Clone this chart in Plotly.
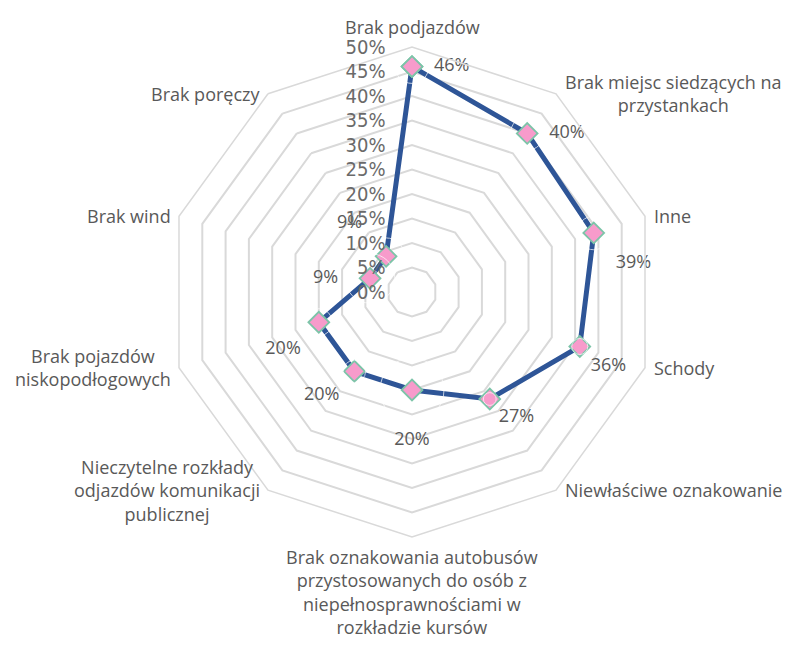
import math
import plotly.graph_objects as go

# Survey: barriers reported, share of respondents (%)
categories = [
    "Brak podjazdów",
    "Brak miejsc siedzących na<br>przystankach",
    "Inne",
    "Schody",
    "Niewłaściwe oznakowanie",
    "Brak oznakowania autobusów<br>przystosowanych do osób z<br>niepełnosprawnościami w<br>rozkładzie kursów",
    "Nieczytelne rozkłady<br>odjazdów komunikacji<br>publicznej",
    "Brak pojazdów<br>niskopodłogowych",
    "Brak wind",
    "Brak poręczy",
]
values = [46, 40, 39, 36, 27, 20, 20, 20, 9, 9]

radial_ticks = [0, 5, 10, 15, 20, 25, 30, 35, 40, 45, 50]
radial_labels = [f"{v}%" for v in radial_ticks]

# value label placement around each point (position + invisible spacer size)
label_pos = ["middle right", "middle right", "bottom right", "bottom right", "bottom right",
             "bottom center", "bottom left", "bottom left", "middle left", "top left"]
label_gap = [33.6, 33.6, 33.6, 16, 12.8, 64, 22.4, 27.2, 49.6, 36.8]

LINE = "#2E5597"
GRID = "#D9D9D9"
TXT = "#595959"
FONT = "Open Sans"

W, H = 788, 648
CX, CY, RAD = 412, 292, 245  # polar centre and radius in pixels

theta_closed = categories + categories[:1]
r_closed = values + values[:1]

fig = go.Figure()
fig.add_trace(go.Scatterpolar(
    r=r_closed, theta=theta_closed, mode="lines+markers",
    line=dict(color=LINE, width=5),
    marker=dict(symbol="diamond", size=16, color="#F79BCB",
                line=dict(color="#7CC4A8", width=1.8)),
    hoverinfo="skip", showlegend=False,
))
fig.add_trace(go.Scatterpolar(
    r=values, theta=categories, mode="markers+text",
    text=[f"{v}%" for v in values], textposition=label_pos,
    textfont=dict(family=FONT, size=18, color=TXT),
    marker=dict(size=label_gap, color="rgba(0,0,0,0)"),
    hoverinfo="skip", showlegend=False,
))

# category names just outside each vertex of the outer polygon
n = len(categories)
for i, name in enumerate(categories):
    ang = math.radians(90 - 360 * i / n)
    c, s = math.cos(ang), math.sin(ang)
    px = CX + RAD * c
    py = CY - RAD * s
    if c > 0.1:
        xa, px = "left", px + 7
    elif c < -0.1:
        xa, px = "right", px - 6
    else:
        xa = "center"
    if s > 0.95:
        ya, py = "bottom", py - 6
    elif s < -0.95:
        ya, py = "top", py + 6
    else:
        ya = "middle"
    fig.add_annotation(
        x=px / W, y=1 - py / H, xref="paper", yref="paper",
        text=name, showarrow=False, xanchor=xa, yanchor=ya, align="center",
        font=dict(family=FONT, size=18, color=TXT),
    )

fig.update_layout(
    width=W, height=H,
    margin=dict(l=0, r=0, t=0, b=0),
    paper_bgcolor="white", plot_bgcolor="white",
    polar=dict(
        domain=dict(x=[(CX - RAD) / W, (CX + RAD) / W],
                    y=[(H - CY - RAD) / H, (H - CY + RAD) / H]),
        gridshape="linear",
        bgcolor="white",
        angularaxis=dict(
            direction="clockwise", rotation=90,
            showgrid=False, showline=True, linecolor=GRID, linewidth=1.5,
            ticks="", showticklabels=False,
        ),
        radialaxis=dict(
            range=[0, 50], angle=90, tickangle=90,
            tickvals=radial_ticks, ticktext=radial_labels,
            side="counterclockwise",
            showline=False, ticks="outside", ticklen=19, tickcolor="rgba(0,0,0,0)",
            gridcolor=GRID, gridwidth=1.5,
            tickfont=dict(family="DejaVu Sans Condensed", size=20, color="#6A6A6A"),
        ),
    ),
)

fig.write_html("out.html")
